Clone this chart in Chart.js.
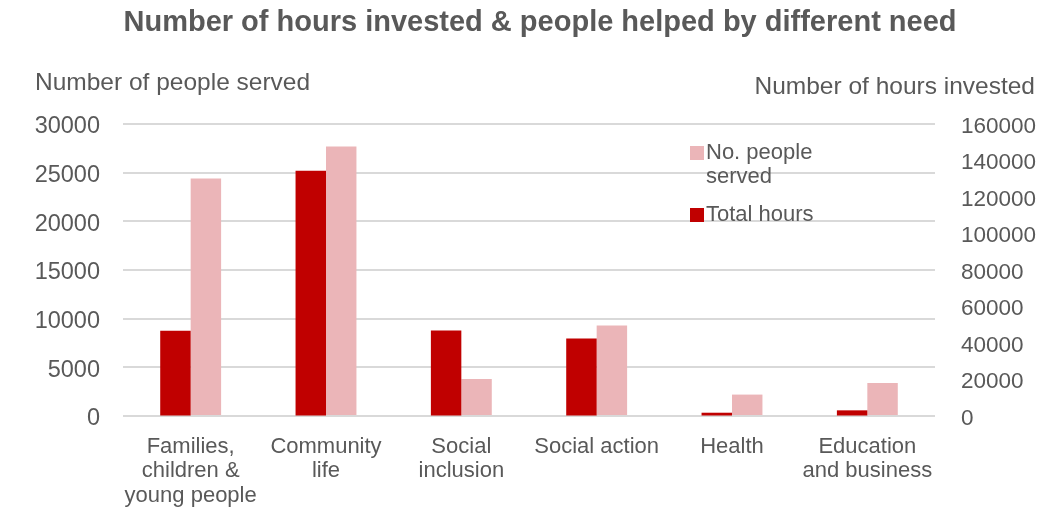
<!DOCTYPE html>
<html>
<head>
<meta charset="utf-8">
<script src="https://cdn.jsdelivr.net/npm/chart.js@4/dist/chart.umd.min.js"></script>
<style>
  html, body { margin: 0; padding: 0; background: #ffffff; }
  #wrap { width: 1058px; height: 507px; }
</style>
</head>
<body>
<div id="wrap"><canvas id="c" width="1058" height="507"></canvas></div>
<script>
const categories = [
  ["Families,", "children &", "young people"],
  ["Community", "life"],
  ["Social", "inclusion"],
  "Social action",
  "Health",
  ["Education", "and business"]
];
const totalHours = [46700, 134400, 46800, 42400, 1800, 3100];
const peopleServed = [24400, 27700, 3800, 9300, 2200, 3400];
const peopleTicks = { min: 0, max: 30000, step: 5000 };
const hoursTicks = { min: 0, max: 160000, step: 20000 };

const TEXT = '#595959';
const FONT = '"Liberation Sans", Arial, Helvetica, sans-serif';
const TITLE = 'Number of hours invested & people helped by different need';

// Heading, axis captions above each value axis, and the in-plot legend
const overlay = {
  id: 'overlay',
  afterDraw(chart) {
    const ctx = chart.ctx;
    ctx.save();
    ctx.fillStyle = TEXT;
    ctx.textBaseline = 'middle';

    ctx.font = 'bold 29px ' + FONT;
    ctx.textAlign = 'center';
    ctx.fillText(TITLE, 540, 23);

    ctx.font = '24.5px ' + FONT;
    ctx.textAlign = 'left';
    ctx.fillText('Number of people served', 35, 83);
    ctx.textAlign = 'right';
    ctx.fillText('Number of hours invested', 1035, 87);

    // legend: people served first, then total hours
    const items = [
      { ds: chart.data.datasets[1], lines: ['No. people', 'served'], y: 153 },
      { ds: chart.data.datasets[0], lines: ['Total hours'], y: 215 }
    ];
    ctx.font = '22px ' + FONT;
    ctx.textAlign = 'left';
    items.forEach(it => {
      ctx.fillStyle = it.ds.backgroundColor;
      ctx.fillRect(690, it.y - 7, 14, 14);
      ctx.fillStyle = TEXT;
      it.lines.forEach((t, i) => ctx.fillText(t, 706, it.y + i * 24));
    });
    ctx.restore();
  }
};

const plainNumber = v => String(v);

new Chart(document.getElementById('c'), {
  type: 'bar',
  data: {
    labels: categories,
    datasets: [
      {
        label: 'Total hours',
        data: totalHours,
        backgroundColor: '#C00000',
        yAxisID: 'y1',
        categoryPercentage: 0.45,
        barPercentage: 1.0
      },
      {
        label: 'No. people served',
        data: peopleServed,
        backgroundColor: '#EBB5B8',
        yAxisID: 'y',
        categoryPercentage: 0.45,
        barPercentage: 1.0
      }
    ]
  },
  options: {
    responsive: false,
    animation: false,
    devicePixelRatio: 1,
    layout: { padding: { left: 0, right: 0, top: 124, bottom: 0 } },
    plugins: {
      legend: { display: false },
      tooltip: { enabled: false },
      title: { display: false }
    },
    scales: {
      x: {
        grid: { display: false },
        border: { display: false },
        ticks: {
          color: TEXT,
          font: { family: FONT, size: 22, lineHeight: 1.1 },
          padding: 11,
          maxRotation: 0,
          autoSkip: false
        },
        afterFit(scale) { scale.height = 91; }
      },
      y: {
        position: 'left',
        min: peopleTicks.min,
        max: peopleTicks.max,
        grid: { color: '#D9D9D9', lineWidth: 2, drawTicks: false },
        border: { display: false },
        ticks: {
          stepSize: peopleTicks.step,
          callback: plainNumber,
          color: TEXT,
          font: { family: FONT, size: 23.5 },
          padding: 23,
          labelOffset: 3
        },
        afterFit(scale) { scale.width = 123; }
      },
      y1: {
        position: 'right',
        min: hoursTicks.min,
        max: hoursTicks.max,
        grid: { drawOnChartArea: false, drawTicks: false },
        border: { display: false },
        ticks: {
          stepSize: hoursTicks.step,
          callback: plainNumber,
          color: TEXT,
          font: { family: FONT, size: 22.5 },
          padding: 26,
          labelOffset: 2.5
        },
        afterFit(scale) { scale.width = 123; }
      }
    }
  },
  plugins: [overlay]
});
</script>
</body>
</html>
